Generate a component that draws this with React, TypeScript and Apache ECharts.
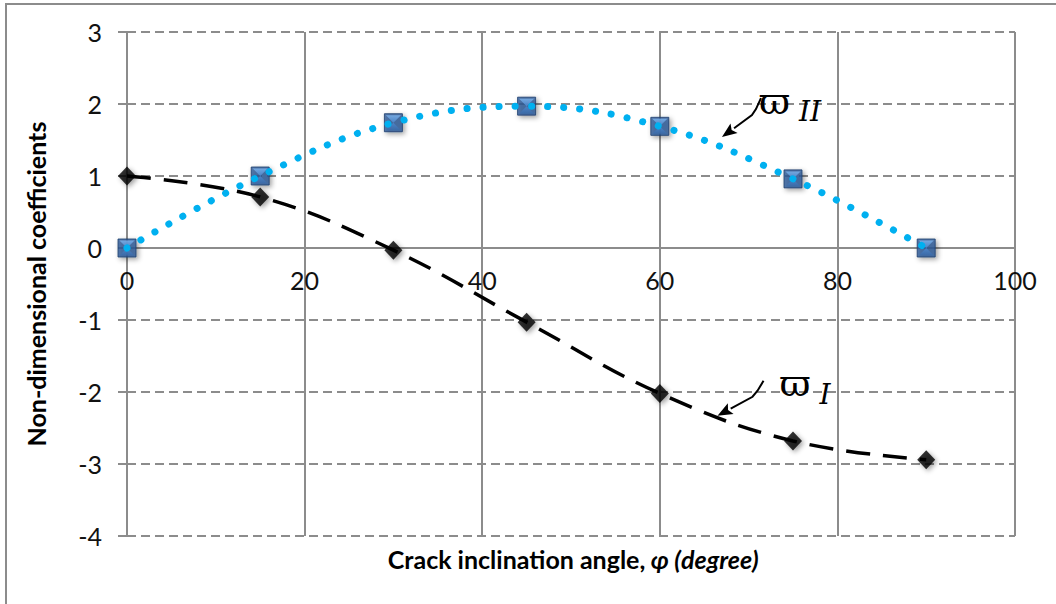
import React, { useEffect, useRef } from "react";
import * as echarts from "echarts";

const angles = [0, 15, 30, 45, 60, 75, 90];
const omegaI = [1.0, 0.71, -0.03, -1.03, -2.02, -2.68, -2.94];
const omegaII = [0, 1.0, 1.74, 1.97, 1.69, 0.96, 0];
const xMin = 0, xMax = 100, xStep = 20;
const yMin = -4, yMax = 3, yStep = 1;
const xTitleA = "Crack inclination angle, ";
const xTitleB = "φ (degree)";
const yTitle = "Non-dimensional coefficients";
const noteII = { x: 67, y: 1.54, sym: "ϖ", sub: "II" };
const noteI = { x: 66.5, y: -2.33, sym: "ϖ", sub: "I" };

const FONT = "Lato, 'Open Sans', sans-serif";
const GRID = "#8c8c8c";
const PLOT_H = 504;

function pairs(ys: number[]) {
  return angles.map((a, i) => [a, ys[i]]);
}

function callout(tip: number[], elbow: number[], mid: number[], end: number[], symPos: number[], subPos: number[], note: any, symSize: number, subSize: number) {
  const dx = tip[0] - elbow[0], dy = tip[1] - elbow[1];
  const len = Math.hypot(dx, dy);
  const ux = dx / len, uy = dy / len;
  const L = 15, W = 6;
  const bx = tip[0] - ux * L, by = tip[1] - uy * L;
  const px = -uy, py = ux;
  return [
    {
      type: "polyline", silent: true, z: 20,
      shape: { points: [[bx, by], elbow, mid, end] },
      style: { stroke: "#000", lineWidth: 2, fill: "none" },
    },
    {
      type: "polygon", silent: true, z: 20,
      shape: { points: [tip, [bx + px * W, by + py * W], [tip[0] - ux * (L - 3), tip[1] - uy * (L - 3)], [bx - px * W, by - py * W]] },
      style: { fill: "#000" },
    },
    {
      type: "text", silent: true, z: 20, x: symPos[0], y: symPos[1],
      style: { text: note.sym, fontFamily: "'DejaVu Serif', serif", fontSize: symSize, fill: "#000", align: "left", verticalAlign: "middle" },
    },
    {
      type: "text", silent: true, z: 20, x: subPos[0], y: subPos[1],
      style: { text: note.sub, fontFamily: "'DejaVu Serif', serif", fontStyle: "italic", fontSize: subSize, fill: "#000", align: "left", verticalAlign: "middle" },
    },
  ];
}

export default function App() {
  const ref = useRef<HTMLDivElement>(null);
  useEffect(() => {
    if (!ref.current) return;
    const chart = echarts.init(ref.current, undefined, { renderer: "svg" });
    const zeroOffset = -((0 - yMin) / (yMax - yMin)) * PLOT_H;
    const option: any = {
      animation: false,
      grid: { left: 127, top: 32, width: 888, height: PLOT_H, containLabel: false },
      xAxis: {
        type: "value", min: xMin, max: xMax, interval: xStep, position: "bottom", offset: zeroOffset,
        axisLine: { show: true, onZero: false, lineStyle: { color: GRID, width: 2 } },
        axisTick: { show: false },
        axisLabel: { margin: 19, fontSize: 25, color: "#111", fontFamily: FONT },
        splitLine: { show: true, lineStyle: { color: GRID, width: 2, type: "solid" } },
      },
      yAxis: {
        type: "value", min: yMin, max: yMax, interval: yStep,
        axisLine: { show: true, onZero: false, lineStyle: { color: GRID, width: 2 } },
        axisTick: { show: true, length: 9, lineStyle: { color: GRID, width: 2 } },
        axisLabel: { margin: 25, fontSize: 25, color: "#111", fontFamily: FONT },
        splitLine: { show: true, lineStyle: { color: GRID, width: 2, type: [9, 5] } },
      },
      series: [
        {
          name: "wII markers", type: "scatter", data: pairs(omegaII), symbol: "rect", symbolSize: 18, z: 3,
          itemStyle: {
            color: "#2a5896", borderColor: "#1b3c6c", borderWidth: 1,
            shadowBlur: 5, shadowColor: "rgba(0,0,0,0.45)", shadowOffsetX: 2, shadowOffsetY: 2,
          },
        },
        {
          name: "wII bevel", type: "scatter", data: pairs(omegaII), symbol: "path://M0,0L10,0L5,5ZM0,10L10,10L5,5Z", symbolSize: 15, z: 3,
          itemStyle: {
            color: new echarts.graphic.LinearGradient(0, 0, 0, 1, [
              { offset: 0, color: "#7fb6ee" },
              { offset: 0.5, color: "#4f8ad0" },
              { offset: 1, color: "#3a6aa8" },
            ]),
          },
        },
        {
          name: "wII", type: "line", data: pairs(omegaII), smooth: 0.4, showSymbol: false, z: 5,
          lineStyle: { color: "#00b0f0", width: 7, type: [0.1, 16], cap: "round" },
        },
        {
          name: "wI markers", type: "scatter", data: pairs(omegaI), symbol: "diamond", symbolSize: [18, 19], z: 3,
          itemStyle: { color: "#000", shadowBlur: 5, shadowColor: "rgba(0,0,0,0.45)", shadowOffsetX: 2, shadowOffsetY: 2 },
        },
        {
          name: "wI", type: "line", data: pairs(omegaI), smooth: 0.4, showSymbol: false, z: 4,
          lineStyle: { color: "#000", width: 3.5, type: [24, 13] },
        },
      ],
    };
    chart.setOption(option);

    const t2 = chart.convertToPixel({ gridIndex: 0 }, [noteII.x, noteII.y]) as number[];
    const t1 = chart.convertToPixel({ gridIndex: 0 }, [noteI.x, noteI.y]) as number[];
    const g2 = callout(
      t2, [t2[0] + 30, t2[1] - 22], [t2[0] + 34, t2[1] - 28], [t2[0] + 39, t2[1] - 39],
      [t2[0] + 37, t2[1] - 36], [t2[0] + 77, t2[1] - 26], noteII, 38, 28
    );
    const g1 = callout(
      t1, [t1[0] + 35, t1[1] - 19], [t1[0] + 40, t1[1] - 25], [t1[0] + 46, t1[1] - 35],
      [t1[0] + 62, t1[1] - 33], [t1[0] + 102, t1[1] - 21], noteI, 38, 28
    );

    chart.setOption({
      graphic: [
        {
          type: "rect", silent: true, z: 0,
          shape: { x: 6, y: 4, width: 1100, height: 700 },
          style: { fill: "none", stroke: GRID, lineWidth: 2 },
        },
        {
          type: "text", silent: true, x: 573, y: 559,
          style: {
            text: "{a|" + xTitleA + "}{b|" + xTitleB + "}",
            align: "center", verticalAlign: "middle",
            rich: {
              a: { fontFamily: FONT, fontWeight: "bold", fontSize: 25, fill: "#000" },
              b: { fontFamily: FONT, fontWeight: "bold", fontStyle: "italic", fontSize: 25, fill: "#000" },
            },
          },
        },
        {
          type: "text", silent: true, x: 36, y: 284, rotation: Math.PI / 2,
          style: { text: yTitle, fontFamily: FONT, fontWeight: "bold", fontSize: 25, fill: "#000", align: "center", verticalAlign: "middle" },
        },
        ...g2,
        ...g1,
      ],
    });
    return () => chart.dispose();
  }, []);
  return <div ref={ref} style={{ position: "fixed", left: 0, top: 0, width: 1056, height: 604, background: "#fff" }} />;
}
